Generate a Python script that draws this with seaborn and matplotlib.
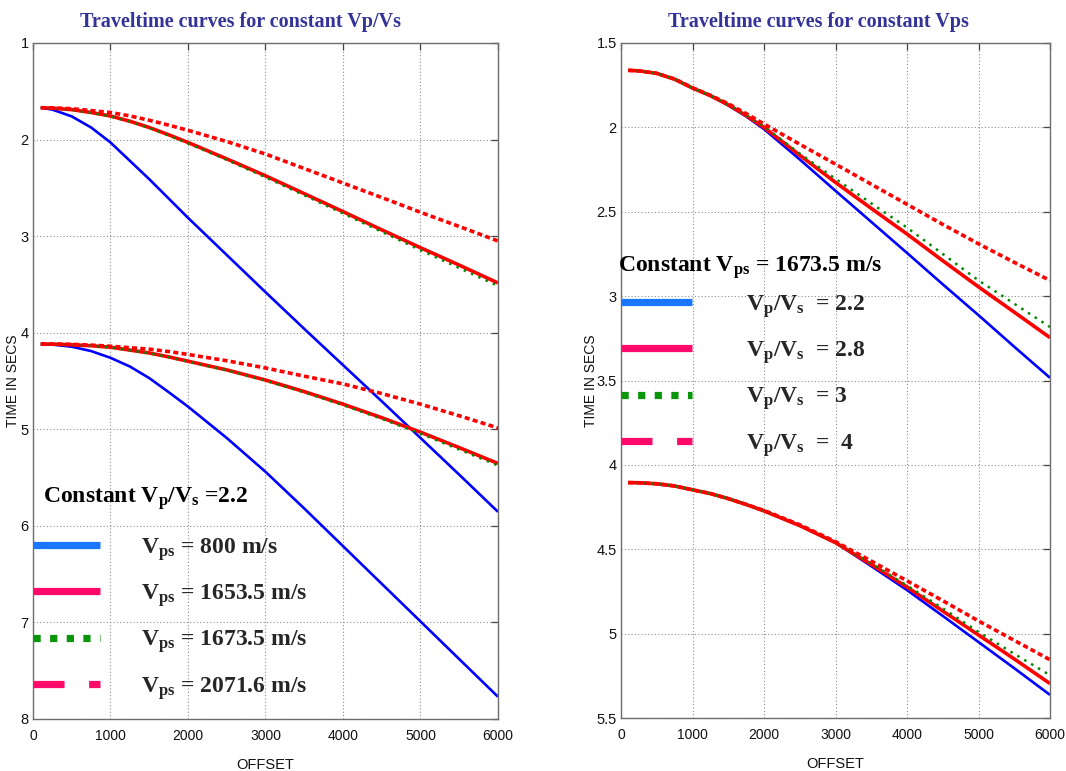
import matplotlib
matplotlib.use("Agg")
import matplotlib.pyplot as plt
from matplotlib.lines import Line2D
from matplotlib.ticker import FormatStrFormatter
import pandas as pd
import seaborn as sns

# ---------------------------------------------------------------- data
offsets = [100, 250, 500, 750, 1000, 1250, 1500, 1750, 2000,
           2500, 3000, 3500, 4000, 4500, 5000, 5500, 6000]

# Left panel: constant Vp/Vs = 2.2, varying Vps (two reflectors)
vps_labels = ["800", "1653.5", "1673.5", "2071.6"]
vps800_r1 = [1.67, 1.69, 1.76, 1.875, 2.03, 2.22, 2.41, 2.61, 2.81,
             3.195, 3.58, 3.96, 4.335, 4.71, 5.09, 5.47, 5.855]
vps1653_r1 = [1.67, 1.675, 1.69, 1.72, 1.756, 1.81, 1.875, 1.95, 2.03,
              2.20, 2.375, 2.56, 2.746, 2.935, 3.12, 3.30, 3.485]
vps1673_r1 = [1.67, 1.675, 1.692, 1.722, 1.76, 1.815, 1.88, 1.958, 2.04,
              2.21, 2.39, 2.577, 2.765, 2.955, 3.145, 3.33, 3.515]
vps2071_r1 = [1.67, 1.672, 1.68, 1.70, 1.72, 1.755, 1.80, 1.85, 1.904,
              2.02, 2.15, 2.30, 2.45, 2.60, 2.753, 2.90, 3.05]
vps800_r2 = [4.117, 4.123, 4.145, 4.19, 4.26, 4.35, 4.47, 4.615, 4.765,
             5.09, 5.44, 5.82, 6.21, 6.60, 6.99, 7.38, 7.77]
vps1653_r2 = [4.117, 4.118, 4.125, 4.135, 4.15, 4.18, 4.21, 4.25, 4.295,
              4.385, 4.49, 4.61, 4.74, 4.88, 5.03, 5.19, 5.354]
vps1673_r2 = [4.117, 4.118, 4.125, 4.136, 4.152, 4.182, 4.213, 4.254, 4.30,
              4.39, 4.497, 4.618, 4.75, 4.892, 5.045, 5.21, 5.375]
vps2071_r2 = [4.117, 4.117, 4.12, 4.128, 4.14, 4.155, 4.17, 4.195, 4.225,
              4.29, 4.365, 4.45, 4.53, 4.63, 4.74, 4.86, 4.986]

# Right panel: constant Vps = 1673.5 m/s, varying Vp/Vs (two reflectors)
vpvs22_r1 = [1.662, 1.665, 1.68, 1.715, 1.767, 1.812, 1.87, 1.935, 2.01,
             2.19, 2.376, 2.56, 2.744, 2.93, 3.113, 3.30, 3.484]
vpvs28_r1 = [1.662, 1.665, 1.68, 1.715, 1.767, 1.812, 1.866, 1.93, 2.00,
             2.165, 2.326, 2.48, 2.632, 2.79, 2.945, 3.095, 3.246]
vpvs3_r1 = [1.662, 1.665, 1.68, 1.715, 1.767, 1.812, 1.866, 1.928, 1.995,
            2.155, 2.305, 2.45, 2.594, 2.75, 2.907, 3.045, 3.183]
vpvs4_r1 = [1.662, 1.665, 1.68, 1.713, 1.765, 1.81, 1.86, 1.918, 1.98,
            2.10, 2.218, 2.337, 2.456, 2.575, 2.69, 2.80, 2.907]
vpvs22_r2 = [4.105, 4.106, 4.112, 4.125, 4.148, 4.17, 4.20, 4.235, 4.273,
             4.36, 4.461, 4.60, 4.742, 4.895, 5.05, 5.205, 5.363]
vpvs28_r2 = [4.105, 4.106, 4.112, 4.125, 4.148, 4.17, 4.20, 4.235, 4.273,
             4.36, 4.461, 4.59, 4.724, 4.866, 5.008, 5.15, 5.296]
vpvs3_r2 = [4.105, 4.106, 4.112, 4.125, 4.148, 4.17, 4.20, 4.235, 4.273,
            4.36, 4.46, 4.585, 4.715, 4.85, 4.99, 5.12, 5.246]
vpvs4_r2 = [4.105, 4.106, 4.112, 4.125, 4.148, 4.17, 4.20, 4.234, 4.27,
            4.355, 4.455, 4.57, 4.687, 4.805, 4.925, 5.04, 5.155]
right_labels = [r"$V_p/V_s$  = 2.2", r"$V_p/V_s$  = 2.8",
                r"$V_p/V_s$  = 3", r"$V_p/V_s$  =  4"]

left_ticks = [1, 2, 3, 4, 5, 6, 7, 8]
right_ticks = [1.5, 2, 2.5, 3, 3.5, 4, 4.5, 5, 5.5]
x_ticks = [0, 1000, 2000, 3000, 4000, 5000, 6000]

# ---------------------------------------------------------------- style
sns.set_style("white")
plt.rcParams["font.family"] = ["Liberation Sans", "DejaVu Sans"]
plt.rcParams["mathtext.fontset"] = "custom"
plt.rcParams["mathtext.rm"] = "Liberation Serif:bold"
plt.rcParams["mathtext.it"] = "Liberation Serif:bold"
plt.rcParams["mathtext.bf"] = "Liberation Serif:bold"
plt.rcParams["mathtext.default"] = "rm"

TITLE_COLOR = "#333399"
GRID_COLOR = "#8c8c8c"
SPINE_COLOR = "#6e6e6e"

# curve styles: blue solid, red solid, green dotted, red dashed
curve_styles = [
    dict(color="#0000ff", lw=1.9, linestyle="-"),
    dict(color="#ff0000", lw=2.6, linestyle="-"),
    dict(color="#008a00", lw=1.8, linestyle=(0, (1.0, 2.2))),
    dict(color="#ff0000", lw=2.6, linestyle=(0, (1.4, 0.9))),
]
# legend key styles
key_styles = [
    dict(color="#1a75ff", lw=5.2, linestyle="-"),
    dict(color="#ff0a6a", lw=5.2, linestyle="-"),
    dict(color="#0a960a", lw=5.2, linestyle=(0, (1.0, 1.3))),
    dict(color="#ff0a6a", lw=5.2, linestyle=(0, (4.3, 3.4))),
]
leg_font = dict(family="Liberation Serif", weight="bold", size=17)

fig = plt.figure(figsize=(10.66, 7.71), dpi=100)
axL = fig.add_axes([33 / 1066, 1 - 719 / 771, 465 / 1066, 676 / 771])
axR = fig.add_axes([621 / 1066, 1 - 718 / 771, 429 / 1066, 675 / 771])


def draw_panel(ax, groups):
    for series in groups:
        for vals, st in zip(series, curve_styles):
            df = pd.DataFrame({"offset": offsets, "time": vals})
            sns.lineplot(data=df, x="offset", y="time", ax=ax, sort=False,
                         errorbar=None, color=st["color"], lw=st["lw"],
                         linestyle=st["linestyle"], dash_capstyle="butt",
                         solid_capstyle="butt")


def style_axes(ax, ylim, yticks, title, title_x, ylab_x):
    ax.set_xlim(0, 6000)
    ax.set_ylim(ylim[1], ylim[0])
    ax.set_xticks(x_ticks)
    ax.set_yticks(yticks)
    ax.yaxis.set_major_formatter(FormatStrFormatter("%g"))
    ax.grid(True, linestyle=(0, (1, 2)), color=GRID_COLOR, lw=0.8)
    for sp in ax.spines.values():
        sp.set_color(SPINE_COLOR)
        sp.set_linewidth(1.0)
        sp.set_visible(True)
    ax.tick_params(direction="in", length=5, width=0.9, color="#444444",
                   top=True, right=True, labelcolor="#111111")
    ax.tick_params(axis="y", pad=3, labelsize=10.5)
    ax.tick_params(axis="x", pad=7, labelsize=10)
    ax.set_xlabel("OFFSET", fontsize=10.5, color="#111111")
    ax.set_ylabel("TIME IN SECS", fontsize=10, color="#111111")
    ax.xaxis.set_label_coords(0.5, -0.058)
    ax.yaxis.set_label_coords(ylab_x, 0.5)
    ax.set_title(title, x=title_x, y=1.012, fontsize=14.5, color=TITLE_COLOR,
                 family="Liberation Serif", fontweight="bold")


draw_panel(axL, [[vps800_r1, vps1653_r1, vps1673_r1, vps2071_r1],
                 [vps800_r2, vps1653_r2, vps1673_r2, vps2071_r2]])
draw_panel(axR, [[vpvs22_r1, vpvs28_r1, vpvs3_r1, vpvs4_r1],
                 [vpvs22_r2, vpvs28_r2, vpvs3_r2, vpvs4_r2]])

style_axes(axL, (1, 8), left_ticks, "Traveltime curves for constant Vp/Vs", 0.446, -0.027)
style_axes(axR, (1.5, 5.5), right_ticks, "Traveltime curves for constant Vps", 0.46, -0.054)

handles = [Line2D([], [], dash_capstyle="butt", solid_capstyle="butt", **k) for k in key_styles]

# left legend: heading plus four keyed entries
axL.text(130, 5.765, r"Constant $V_p/V_s$ =2.2", ha="left", va="baseline",
         fontproperties=leg_font, color="black")
axL.legend(handles, [r"$V_{ps}$ = %s m/s" % v for v in vps_labels],
           prop=leg_font, loc="upper left", bbox_to_anchor=(0.0, 0.271),
           bbox_transform=axL.transAxes, frameon=False,
           borderpad=0.0, borderaxespad=0.0, handlelength=2.84,
           handletextpad=1.74, labelspacing=0.83)

# right legend
axR.text(-40, 2.853, r"Constant $V_{ps}$ = 1673.5 m/s", ha="left", va="baseline",
         fontproperties=leg_font, color="black")
axR.legend(handles, right_labels,
           prop=leg_font, loc="upper left", bbox_to_anchor=(0.0, 0.630),
           bbox_transform=axR.transAxes, frameon=False,
           borderpad=0.0, borderaxespad=0.0, handlelength=3.0,
           handletextpad=2.3, labelspacing=0.83)

fig.savefig("out.png", dpi=100, facecolor="white")
